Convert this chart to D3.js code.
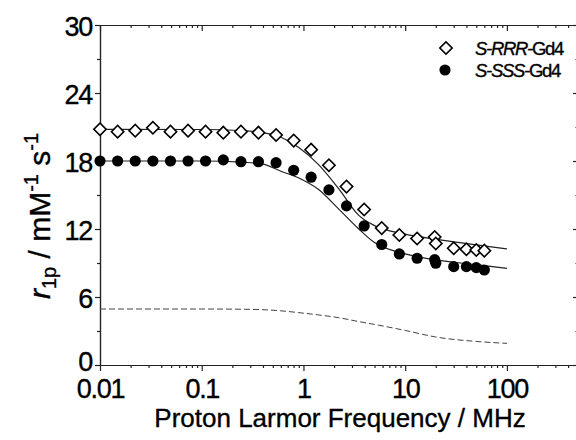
<!DOCTYPE html>
<html>
<head>
<meta charset="utf-8">
<script src="https://cdn.jsdelivr.net/npm/d3@7"></script>
<style>
  body { margin: 0; background: #fff; }
  svg { display: block; font-family: "Liberation Sans", Arial, sans-serif; }
  svg text { stroke: #000; stroke-width: 0.35px; }
  .axis path, .axis line { stroke: #222; stroke-width: 1.2px; }
  .axis text { font-size: 27px; letter-spacing: -1.3px; fill: #000; }
</style>
</head>
<body>
<div id="chart"></div>
<script>
// frequencies in MHz (relaxometer points, then the high field points)
var freq = [0.01, 0.0149, 0.0222, 0.0331, 0.0493, 0.0734, 0.109, 0.163, 0.243, 0.361,
  0.538, 0.802, 1.19, 1.78, 2.65, 3.95, 5.88, 8.76, 13.1, 19.5, 20, 30, 40, 50, 60];
var rrr = [20.80, 20.59, 20.68, 20.94, 20.59, 20.68, 20.59, 20.50, 20.59, 20.50,
  20.30, 19.80, 19.00, 17.62, 15.74, 13.72, 12.08, 11.47, 11.16, 11.30, 10.72, 10.30, 10.21, 10.15, 10.09];
var sss = [18.0, 18.0, 18.0, 18.0, 18.0, 18.0, 18.0, 18.1, 17.94, 17.94,
  17.85, 17.18, 16.57, 15.45, 14.04, 12.27, 10.63, 9.80, 9.42, 9.30, 8.98, 8.68, 8.68, 8.59, 8.38];

// fitted curves, read at a few frequencies
var fitFreq = [0.01, 0.1, 0.25, 0.4, 0.6, 0.9, 1.4, 2.2, 3.5, 5, 10, 20, 50, 100];
var fitRRR = [20.8, 20.78, 20.68, 20.5, 20.1, 19.2, 17.7, 15.6, 13.2, 12.3, 11.55, 11.1, 10.6, 10.24];
var fitSSS = [18.0, 18.0, 17.9, 17.72, 17.1, 16.5, 15.5, 13.8, 12.0, 10.8, 9.8, 9.27, 8.85, 8.53];
var fitDash = [4.94, 4.94, 4.92, 4.88, 4.78, 4.62, 4.42, 4.18, 3.83, 3.58, 3.05, 2.47, 2.08, 1.91];

var xMajor = [0.01, 0.1, 1, 10, 100];
var yMajor = [0, 6, 12, 18, 24, 30];
var yMinor = [3, 9, 15, 21, 27];

var legendNames = [["S-RRR-", "Gd4"], ["S-SSS-", "Gd4"]];

var size = {
  width: 576,
  height: 440,
  left: 100,
  right: 578,
  top: 25,
  bottom: 365
};

var x = d3.scaleLog().domain([0.01, 500]).range([size.left, size.right]);
var y = d3.scaleLinear().domain([0, 30]).range([size.bottom, size.top]);

var xMinor = [];
xMajor.forEach(function(d) {
  for (var k = 2; k <= 9; k++) {
    if (d * k < 500) xMinor.push(d * k);
  }
});

var svg = d3.select('#chart').append('svg')
  .attr('width', size.width)
  .attr('height', size.height);

// bottom axis
svg.append('g')
  .attr('class', 'axis')
  .attr('transform', `translate(0, ${size.bottom})`)
  .call(d3.axisBottom(x).tickValues(xMajor).tickSize(6).tickSizeOuter(0).tickPadding(8)
    .tickFormat(d3.format('~g')));
svg.append('g')
  .attr('class', 'axis')
  .attr('transform', `translate(0, ${size.bottom})`)
  .call(d3.axisBottom(x).tickValues(xMinor).tickSize(3).tickSizeOuter(0).tickFormat(''));

// top axis, ticks pointing in
svg.append('g')
  .attr('class', 'axis')
  .attr('transform', `translate(0, ${size.top})`)
  .call(d3.axisBottom(x).tickValues(xMajor).tickSize(6).tickSizeOuter(0).tickFormat(''));
svg.append('g')
  .attr('class', 'axis')
  .attr('transform', `translate(0, ${size.top})`)
  .call(d3.axisBottom(x).tickValues(xMinor).tickSize(3).tickSizeOuter(0).tickFormat(''));

// left axis
var yAx = svg.append('g')
  .attr('class', 'axis')
  .attr('transform', `translate(${size.left}, 0)`)
  .call(d3.axisLeft(y).tickValues(yMajor).tickSize(5).tickSizeOuter(0).tickPadding(3));
yAx.selectAll('text').attr('dy', d => d === 0 ? '0.22em' : '0.37em');
svg.append('g')
  .attr('class', 'axis')
  .attr('transform', `translate(${size.left}, 0)`)
  .call(d3.axisLeft(y).tickValues(yMinor).tickSize(3).tickSizeOuter(0).tickFormat(''));

// right axis, ticks pointing in
svg.append('g')
  .attr('class', 'axis')
  .attr('transform', `translate(${size.right}, 0)`)
  .call(d3.axisLeft(y).tickValues(yMajor).tickSize(5).tickSizeOuter(0).tickFormat(''));
svg.append('g')
  .attr('class', 'axis')
  .attr('transform', `translate(${size.right}, 0)`)
  .call(d3.axisLeft(y).tickValues(yMinor).tickSize(2.5).tickSizeOuter(0).tickFormat(''));

// fit curves
function fitLine(vals) {
  return d3.line()
    .x((d, i) => x(fitFreq[i]))
    .y(d => y(d))
    .curve(d3.curveMonotoneX)(vals);
}

svg.append('path')
  .attr('d', fitLine(fitDash))
  .attr('fill', 'none')
  .attr('stroke', '#444')
  .attr('stroke-width', 1)
  .attr('stroke-dasharray', '6,3');

svg.append('path')
  .attr('d', fitLine(fitRRR))
  .attr('fill', 'none')
  .attr('stroke', '#222')
  .attr('stroke-width', 1.2);

svg.append('path')
  .attr('d', fitLine(fitSSS))
  .attr('fill', 'none')
  .attr('stroke', '#222')
  .attr('stroke-width', 1.2);

// markers
var diamond = d3.symbol().type(d3.symbolSquare).size(76);
var circle = d3.symbol().type(d3.symbolCircle).size(98);

svg.append('g').selectAll('path')
  .data(sss)
  .enter().append('path')
  .attr('d', circle)
  .attr('transform', (d, i) => `translate(${x(freq[i])}, ${y(d)})`)
  .attr('fill', '#000');

svg.append('g').selectAll('path')
  .data(rrr)
  .enter().append('path')
  .attr('d', diamond)
  .attr('transform', (d, i) => `translate(${x(freq[i])}, ${y(d)}) rotate(45)`)
  .attr('fill', '#fff')
  .attr('stroke', '#000')
  .attr('stroke-width', 1.6);

// legend
var leg = svg.append('g').attr('transform', 'translate(446, 48)');
leg.append('path')
  .attr('d', diamond)
  .attr('transform', 'rotate(45)')
  .attr('fill', '#fff')
  .attr('stroke', '#000')
  .attr('stroke-width', 1.6);
leg.append('path')
  .attr('d', circle)
  .attr('transform', 'translate(-1, 22)')
  .attr('fill', '#000');

legendNames.forEach(function(n, i) {
  var t = leg.append('text')
    .attr('x', 29)
    .attr('y', 7 + i * 22)
    .attr('font-size', 18.5)
    .attr('letter-spacing', -1.3)
    .attr('fill', '#000');
  t.append('tspan').attr('font-style', 'italic').text(n[0]);
  t.append('tspan').text(n[1]);
});

// axis titles
svg.append('text')
  .attr('x', 340)
  .attr('y', 427)
  .attr('text-anchor', 'middle')
  .attr('font-size', 26)
  .attr('fill', '#000')
  .text('Proton Larmor Frequency / MHz');

var yt = svg.append('text')
  .attr('transform', 'translate(50, 216) rotate(-90)')
  .attr('text-anchor', 'middle')
  .attr('font-size', 30)
  .attr('fill', '#000');
yt.append('tspan').attr('font-style', 'italic').text('r');
yt.append('tspan').attr('font-size', 20).attr('dy', 6).text('1p');
yt.append('tspan').attr('dy', -6).text(' / mM');
yt.append('tspan').attr('font-size', 20).attr('dy', -12).text('-1');
yt.append('tspan').attr('dy', 12).text(' s');
yt.append('tspan').attr('font-size', 20).attr('dy', -12).text('-1');
</script>
</body>
</html>
